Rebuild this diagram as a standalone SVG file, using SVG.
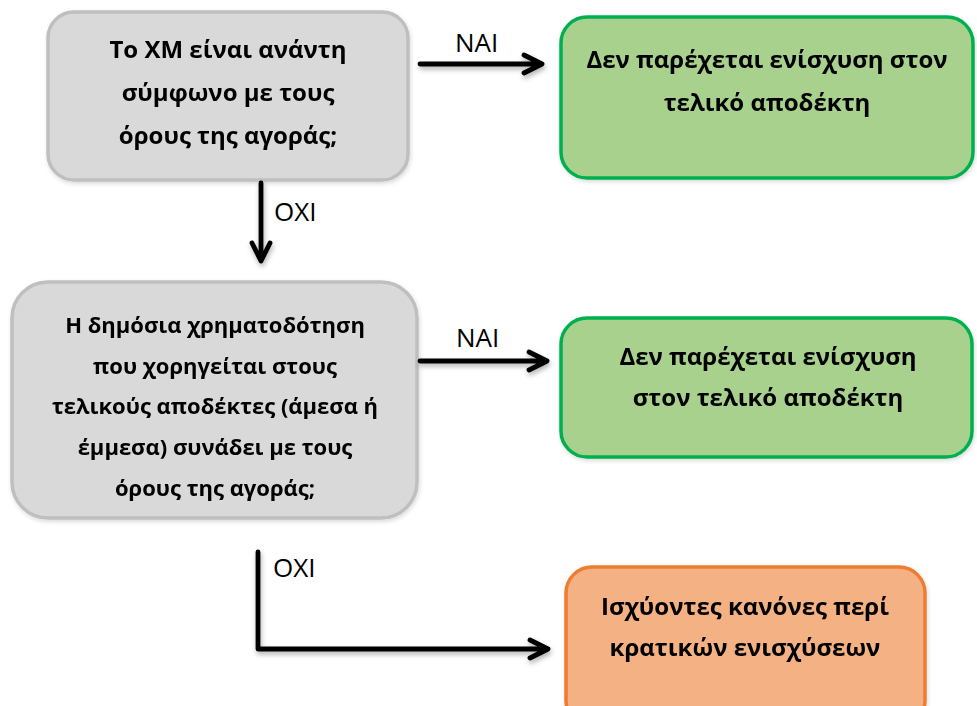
<svg xmlns="http://www.w3.org/2000/svg" width="977" height="706" viewBox="0 0 977 706">
  <style>
    .t { font-family: "Open Sans", "Noto Sans", "DejaVu Sans", sans-serif; font-weight: bold; font-size: 24px; fill: #000; text-anchor: middle; }
    .t.small { font-size: 22px; }
    .lbl { font-family: "Open Sans", "Noto Sans", "DejaVu Sans", sans-serif; font-size: 26px; fill: #000; }
    .gray { fill: #d9d9d9; stroke: #bfbfbf; stroke-width: 3.5; }
    .green { fill: #a9d18e; stroke: #00b050; stroke-width: 3.5; }
    .orange { fill: #f4b183; stroke: #ed7d31; stroke-width: 3.5; }
    .conn { fill: none; stroke: #000; stroke-width: 4.8; stroke-linecap: round; stroke-linejoin: round; }
  </style>
  <defs>
    <filter id="shadow" x="-20%" y="-20%" width="140%" height="160%">
      <feDropShadow dx="1" dy="3" stdDeviation="2.5" flood-color="#000" flood-opacity="0.3"/>
    </filter>
    <filter id="boxShadow" x="-10%" y="-10%" width="120%" height="130%">
      <feDropShadow dx="1" dy="2" stdDeviation="2" flood-color="#000" flood-opacity="0.15"/>
    </filter>
  </defs>
  <rect width="977" height="706" fill="#fff"/>

  <g id="q1" filter="url(#boxShadow)">
    <rect class="gray" x="48" y="12" width="360" height="168" rx="26"/>
    <text class="t" x="228" y="58">Το ΧΜ είναι ανάντη</text>
    <text class="t" x="228" y="101">σύμφωνο με τους</text>
    <text class="t" x="228" y="144">όρους της αγοράς;</text>
  </g>

  <g id="yes1" filter="url(#boxShadow)">
    <rect class="green" x="561" y="17" width="412" height="161" rx="26"/>
    <text class="t" x="767" y="68">Δεν παρέχεται ενίσχυση στον</text>
    <text class="t" x="767" y="111">τελικό αποδέκτη</text>
  </g>

  <g id="q2" filter="url(#boxShadow)">
    <rect class="gray" x="12" y="282" width="405" height="236" rx="36"/>
    <text class="t small" x="215" y="333">Η δημόσια χρηματοδότηση</text>
    <text class="t small" x="215" y="374">που χορηγείται στους</text>
    <text class="t small" x="215" y="414">τελικούς αποδέκτες (άμεσα ή</text>
    <text class="t small" x="215" y="455">έμμεσα) συνάδει με τους</text>
    <text class="t small" x="215" y="496">όρους της αγοράς;</text>
  </g>

  <g id="yes2" filter="url(#boxShadow)">
    <rect class="green" x="561" y="318" width="411" height="139" rx="26"/>
    <text class="t" x="768" y="365">Δεν παρέχεται ενίσχυση</text>
    <text class="t" x="768" y="406">στον τελικό αποδέκτη</text>
  </g>

  <g id="stateAid" filter="url(#boxShadow)">
    <rect class="orange" x="566" y="567" width="359" height="160" rx="26"/>
    <text class="t" x="745" y="615">Ισχύοντες κανόνες περί</text>
    <text class="t" x="745" y="656">κρατικών ενισχύσεων</text>
  </g>

  <g id="connectors" filter="url(#shadow)">
    <path class="conn" d="M420 64 H542 M524 55 L542 64 L524 73"/>
    <path class="conn" d="M261 183 V261 M252 243 L261 261 L270 243"/>
    <path class="conn" d="M420 361 H547 M529 352 L547 361 L529 370"/>
    <path class="conn" d="M258 552 V649 H548 M530 640 L548 649 L530 658"/>
  </g>

  <g id="labels">
    <text class="lbl" x="455" y="52">ΝΑΙ</text>
    <text class="lbl" x="274" y="221">ΟΧΙ</text>
    <text class="lbl" x="456" y="347">ΝΑΙ</text>
    <text class="lbl" x="273" y="577">ΟΧΙ</text>
  </g>
</svg>
